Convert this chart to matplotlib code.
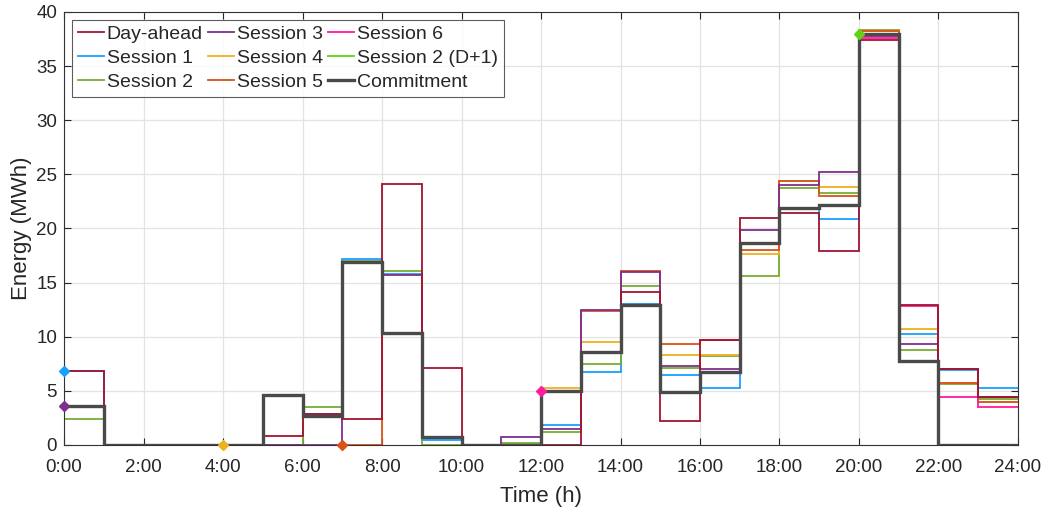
import matplotlib
matplotlib.use("Agg")
import matplotlib.pyplot as plt
from matplotlib.lines import Line2D
import numpy as np

plt.rcParams['font.family'] = ['Liberation Sans', 'DejaVu Sans']

xtick_labels = [f"{h}:00" for h in range(0, 25, 2)]

day_ahead = [6.8, 0, 0, 0, 0, 0.85, 2.9, 2.4, 24.1, 7.07, 0, 0, 0, 8.5, 14.1, 2.2,
             9.7, 21.0, 21.4, 17.95, 37.4, 12.9, 6.97, 4.45]
session1 = [6.8, 0, 0, 0, 0, 4.6, 2.9, 17.2, 15.8, 0.5, 0, 0, 1.84, 6.7, 13.0, 6.5,
            5.27, 18.65, 21.85, 20.9, 37.95, 10.26, 6.88, 5.25]
session2 = [2.36, 0, 0, 0, 0, 0, 3.5, 17.0, 16.1, 0, 0, 0.2, 1.22, 7.5, 14.65, 7.12,
            8.25, 15.6, 23.77, 23.3, 38.35, 8.75, 5.6, 4.23]
session3 = [3.6, 0, 0, 0, 0, 0, 0, 16.9, 15.7, 0.7, 0, 0.77, 1.44, 12.5, 15.95, 7.28,
            7.0, 19.85, 24.0, 25.2, 37.8, 9.34, 6.97, 4.45]
session4 = [0, 4.6, 2.67, 16.9, 10.3, 0.7, 0, 0, 5.25, 9.5, 16.1, 8.3,
            8.3, 17.65, 24.4, 23.8, 38.2, 10.7, 5.7, 3.96]          # from 4:00
session5 = [0, 10.3, 0.7, 0, 0, 5.0, 12.4, 16.1, 9.37,
            9.7, 18.0, 24.4, 23.0, 38.2, 7.77, 5.74, 3.96]           # from 7:00
session6 = [5.0, 8.6, 12.97, 4.9, 6.75, 18.65, 21.85, 22.15, 37.6, 12.85,
            4.42, 3.5]                                               # from 12:00
session2_d1 = [37.95, 7.77, 0, 0]                                    # from 20:00
commitment = [3.6, 0, 0, 0, 0, 4.6, 2.67, 16.9, 10.3, 0.7, 0, 0, 5.0, 8.6, 12.97, 4.9,
              6.75, 18.65, 21.85, 22.15, 37.95, 7.77, 0, 0]

# session start markers: (hour, value)
start_s1 = (0, 6.8)
start_s3 = (0, 3.6)
start_s4 = (4, 0)
start_s5 = (7, 0)
start_s6 = (12, 5.0)
start_s2d1 = (20, 38.0)

c_da = '#A2142F'
c_s1 = '#19A0FF'
c_s2 = '#77AC30'
c_s3 = '#7E2F8E'
c_s4 = '#EDB120'
c_s5 = '#D95319'
c_s6 = '#FF1A9E'
c_s2d1 = '#5FD314'
c_com = '#4A4A4A'

fig = plt.figure(figsize=(10.5, 5.12), dpi=100)
ax = fig.add_axes([0.061, 0.131, 0.9085, 0.8456])

lw = 1.3

def st(vals, start, color, label, lw=lw, z=2.0):
    edges = np.arange(start, start + len(vals) + 1)
    ax.stairs(vals, edges, baseline=None, color=color, lw=lw, label=label, zorder=z)

st(session1, 0, c_s1, 'Session 1')
st(session2, 0, c_s2, 'Session 2')
st(session4, 4, c_s4, 'Session 4')
st(session5, 7, c_s5, 'Session 5')
st(session3, 0, c_s3, 'Session 3', z=2.1)
st(session6, 12, c_s6, 'Session 6')
st(session2_d1, 20, c_s2d1, 'Session 2 (D+1)')
st(day_ahead, 0, c_da, 'Day-ahead', z=2.5)
st(commitment, 0, c_com, 'Commitment', lw=2.4, z=3)

for (pt, col) in [(start_s1, c_s1), (start_s3, c_s3), (start_s4, c_s4),
                  (start_s5, c_s5), (start_s6, c_s6), (start_s2d1, c_s2d1)]:
    ax.plot([pt[0]], [pt[1]], marker='D', ms=5.5, color=col, ls='none', zorder=4, clip_on=False)

ax.set_xlim(0, 24)
ax.set_ylim(0, 40)
ax.set_xticks(range(0, 25, 2))
ax.set_xticklabels(xtick_labels)
ax.set_yticks(range(0, 41, 5))
ax.grid(True, color='#E3E3E3', lw=0.9)
ax.set_axisbelow(True)
ax.tick_params(direction='in', top=True, right=True, length=5, width=0.8,
               labelsize=13.5, colors='#262626')
ax.tick_params(axis='x', pad=10)
ax.tick_params(axis='y', pad=5)
for s in ax.spines.values():
    s.set_color('#333333')
    s.set_linewidth(0.8)
ax.set_xlabel('Time (h)', fontsize=16, color='#262626', labelpad=7)
ax.set_ylabel('Energy (MWh)', fontsize=16, color='#262626', labelpad=3)

handles, labels = ax.get_legend_handles_labels()
order = ['Day-ahead', 'Session 1', 'Session 2', 'Session 3', 'Session 4', 'Session 5',
         'Session 6', 'Session 2 (D+1)', 'Commitment']
hmap = dict(zip(labels, handles))
leg_handles = []
for lab in order:
    h = hmap[lab]
    leg_handles.append(Line2D([], [], color=h.get_edgecolor(), lw=h.get_linewidth()))
leg = ax.legend(leg_handles, order, ncol=3, loc='upper left', fontsize=14,
                frameon=True, fancybox=False, edgecolor='#333333',
                handlelength=1.35, handletextpad=0.15, columnspacing=0.25,
                labelspacing=0.32, borderpad=0.3, borderaxespad=0.4)
leg.get_frame().set_linewidth(0.8)
for t in leg.get_texts():
    t.set_color('#262626')

fig.savefig('out.png', dpi=100)
